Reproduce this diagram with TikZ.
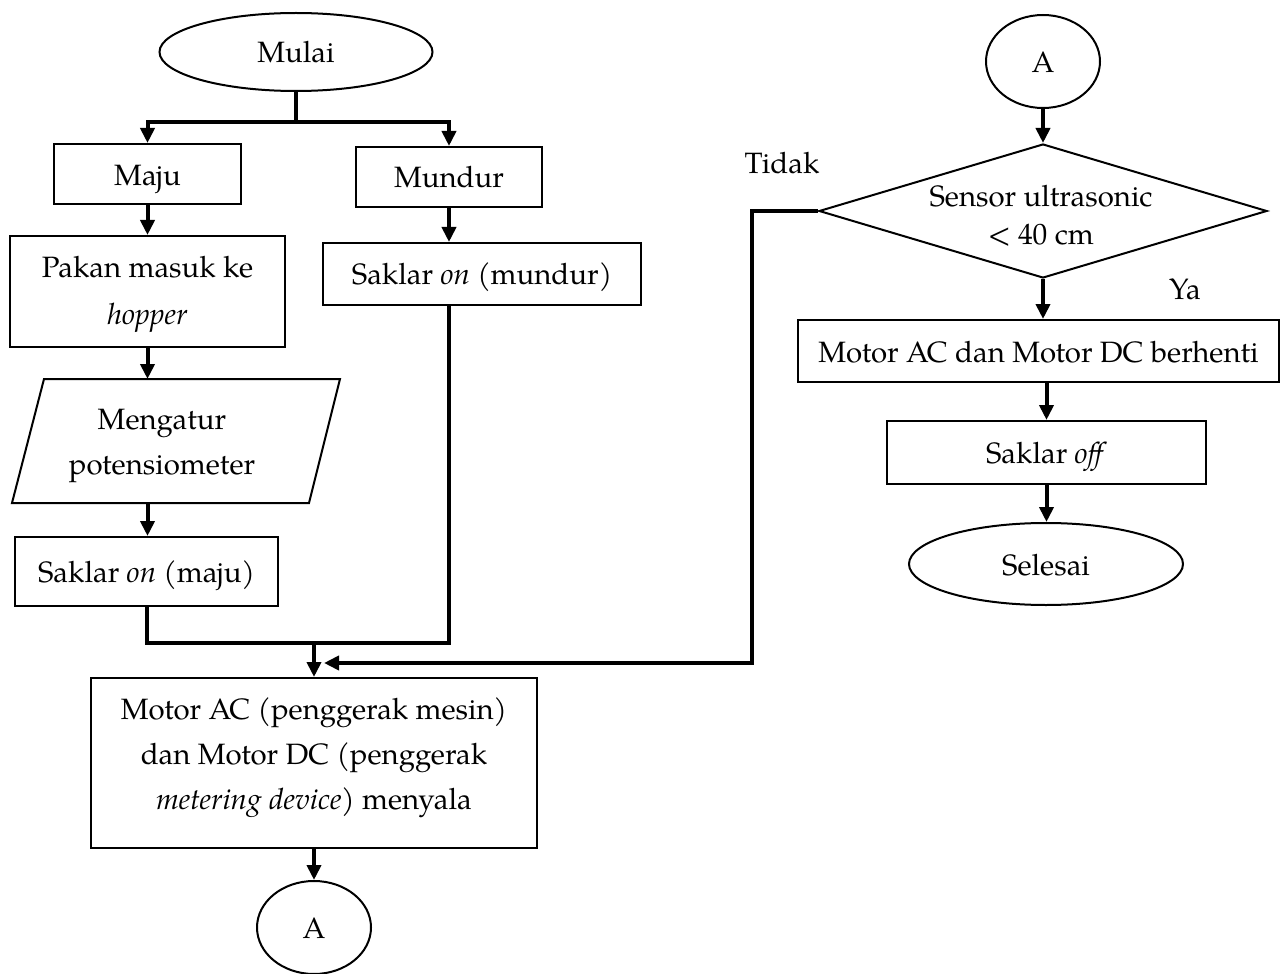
\documentclass[tikz,border=0pt]{standalone}
\usepackage{fontspec}
\setmainfont{TeX Gyre Pagella}
\usetikzlibrary{arrows.meta,shapes.geometric,calc}
\begin{document}
\begin{tikzpicture}[x=0.5pt,y=-0.5pt,
  txt/.style={font=\fontsize{14.7}{22.5}\selectfont, align=center, inner sep=0pt},
  one/.style={text height=11pt, text depth=0pt},
  box/.style={draw, line width=1pt, inner sep=0pt, txt},
  oval/.style={draw, ellipse, line width=1pt, inner sep=0pt, txt, one},
  conn/.style={line width=2pt},
  arr/.style={line width=2pt, -{Triangle[width=7pt,length=7.5pt]}},
]
\useasboundingbox (0,0) rectangle (1281,974);

% left column
\node[oval, minimum width=136.5pt, minimum height=39pt] (mulai) at (296,52) {Mulai};
\node[box, one, minimum width=93.5pt, minimum height=30pt] (maju) at (147.5,174) {Maju};
\node[box, one, minimum width=93pt, minimum height=30pt] (mundur) at (449,177) {Mundur};
\node[box, minimum width=137.5pt, minimum height=55.5pt] (pakan) at (147.5,291.5) {};
\node[txt] (pakantext) at (147.5,294.5) {Pakan masuk ke\\[1pt]\textit{hopper}};
\draw[line width=1pt] (44,379) -- (340,379) -- (309,503) -- (12,503) -- cycle;
\node[txt] (para) at (162,446) {Mengatur\\potensiometer};
\coordinate (paratop) at (147.5,379);
\coordinate (parabot) at (147.5,503);
\node[box, one, minimum width=131.5pt, minimum height=34.5pt] (sakmaju) at (146.5,571.5) {Saklar \textit{on} (maju)};
\node[box, one, minimum width=159pt, minimum height=31pt] (sakmundur) at (482,274) {Saklar \textit{on} (mundur)};
\node[box, minimum width=223pt, minimum height=85pt] (motor) at (314,763) {};
\node[txt] (motortext) at (314,758) {Motor AC (penggerak mesin)\\dan Motor DC (penggerak\\\textit{metering device}) menyala};
\node[oval, minimum width=57pt, minimum height=46.5pt] (a1) at (314,927.5) {A};

% right column
\node[oval, minimum width=57pt, minimum height=46.5pt] (a2) at (1043,61.5) {A};
\node[draw, diamond, line width=1pt, inner sep=0pt, minimum width=224pt, minimum height=67pt] (dec) at (1043,211) {};
\node[txt, font=\fontsize{14.7}{19}\selectfont] (dectext) at (1041,216) {Sensor ultrasonic\\{<} 40 cm};
\node[box, one, minimum width=240.5pt, minimum height=31pt] (berhenti) at (1038.5,351) {Motor AC dan Motor DC berhenti};
\node[box, one, minimum width=159.5pt, minimum height=31.5pt] (off) at (1046.5,452.5) {Saklar \textit{off}};
\node[oval, minimum width=137pt, minimum height=41pt] (selesai) at (1046,564) {Selesai};

\node[txt] (tidak) at (782,163) {Tidak};
\node[txt] (ya) at (1185,289) {Ya};

% connectors
\coordinate (j) at (296,122);
\draw[conn] (mulai.south) -- (j);
\draw[arr] (j) -| (maju.north);
\draw[arr] (j) -| (mundur.north);
\draw[arr] (maju.south) -- (pakan.north);
\draw[arr] (pakan.south) -- (paratop);
\draw[arr] (parabot) -- (parabot |- sakmaju.north);
\draw[arr] (mundur.south) -- (mundur.south |- sakmundur.north);
\coordinate (merge) at (449,643);
\draw[conn] (sakmaju.south) |- (merge) -- (merge |- sakmundur.south);
\draw[arr] (motor.north |- merge) -- (motor.north);
\coordinate (tx) at (752,663);
\coordinate (tend) at (324,663);
\draw[arr] (dec.west) -| (tx) -- (tend);
\draw[arr] (motor.south) -- (a1.north);

\draw[arr] (a2.south) -- (dec.north);
\draw[arr] (dec.south) -- (dec.south |- berhenti.north);
\draw[arr] (berhenti.south -| off.north) -- (off.north);
\draw[arr] (off.south) -- (off.south |- selesai.north);
\end{tikzpicture}
\end{document}
